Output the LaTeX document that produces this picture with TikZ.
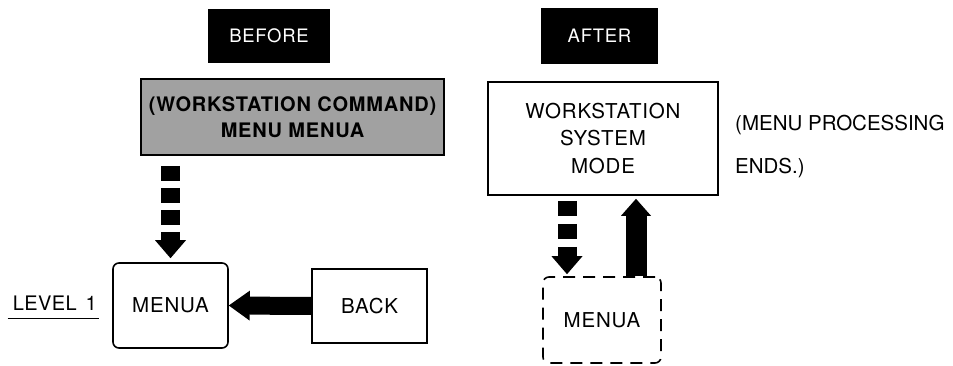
\documentclass[tikz,border=0pt]{standalone}
\usepackage{fontspec}
\setmainfont{TeX Gyre Heros}[LetterSpace=4]
\usetikzlibrary{arrows.meta}

\tikzset{
  box/.style={draw, line width=1.6pt, minimum width=115pt, minimum height=80pt, align=center, inner sep=2pt},
  tag/.style={fill=black, text=white, font=\fontsize{18.5}{20}\selectfont},
  fatarrow/.style={line width=19pt, -{Triangle[length=18pt,width=31pt,line width=0pt]}},
  dasharrow/.style={fatarrow, dash pattern=on 15pt off 7pt},
}

\begin{document}
\begin{tikzpicture}[x=1pt, y=-1pt, font=\fontsize{20.5}{24}\selectfont]
  \useasboundingbox (0,0) rectangle (953,366);

  % before
  \node[tag, minimum width=122pt, minimum height=54pt] (before) at (269,36) {BEFORE};
  \node[box, fill=black!37, minimum width=303pt, minimum height=76pt, font=\fontsize{20}{26}\selectfont\bfseries] (cmd) at (292.5,117) {(WORKSTATION COMMAND)\\MENU MENUA};
  \node[box, rounded corners=6pt, minimum height=85pt] (menua) at (170.5,305.5) {MENUA};
  \node[box, minimum height=74pt] (back) at (369.5,306) {BACK};
  \node[anchor=east, inner sep=2pt, font=\fontsize{20}{24}\selectfont\addfontfeatures{LetterSpace=2}] (level) at (99,303) {LEVEL\hspace{9pt}1};
  \draw[line width=1.8pt] ([xshift=-3pt,yshift=-6pt]level.south west) -- ([yshift=-6pt]level.south east);

  \draw[dasharrow, shorten <=10pt, shorten >=4pt] (menua.north |- cmd.south) -- (menua.north);
  \draw[fatarrow, line width=18pt, -{Triangle[length=21pt,width=30pt,line width=0pt]}] (back.west) -- (menua.east);

  % after
  \node[tag, minimum width=117pt, minimum height=56pt] (after) at (599.5,36) {AFTER};
  \node[box, minimum width=230pt, minimum height=113pt, font=\fontsize{20.5}{27.5}\selectfont] (ws) at (603,138.5) {WORKSTATION\\SYSTEM\\MODE};
  \node[anchor=north west, align=left, inner sep=0pt, font=\fontsize{20.5}{43}\selectfont\addfontfeatures{LetterSpace=0}] (note) at (735,115) {(MENU PROCESSING\\ENDS.)};
  \node[box, dashed, dash pattern=on 12pt off 8pt, rounded corners=6pt, minimum width=118pt, minimum height=86pt] (menub) at (602,320) {MENUA};

  \draw[dasharrow, dash pattern=on 15pt off 8pt, shorten <=5pt, shorten >=2pt] ([xshift=-35pt]menub.north |- ws.south) -- ([xshift=-35pt]menub.north);
  \draw[fatarrow, line width=21pt, -{Triangle[length=17pt,width=30pt,line width=0pt]}, shorten >=3pt] ([xshift=34pt]menub.north) -- ([xshift=34pt]menub.north |- ws.south);
\end{tikzpicture}
\end{document}
